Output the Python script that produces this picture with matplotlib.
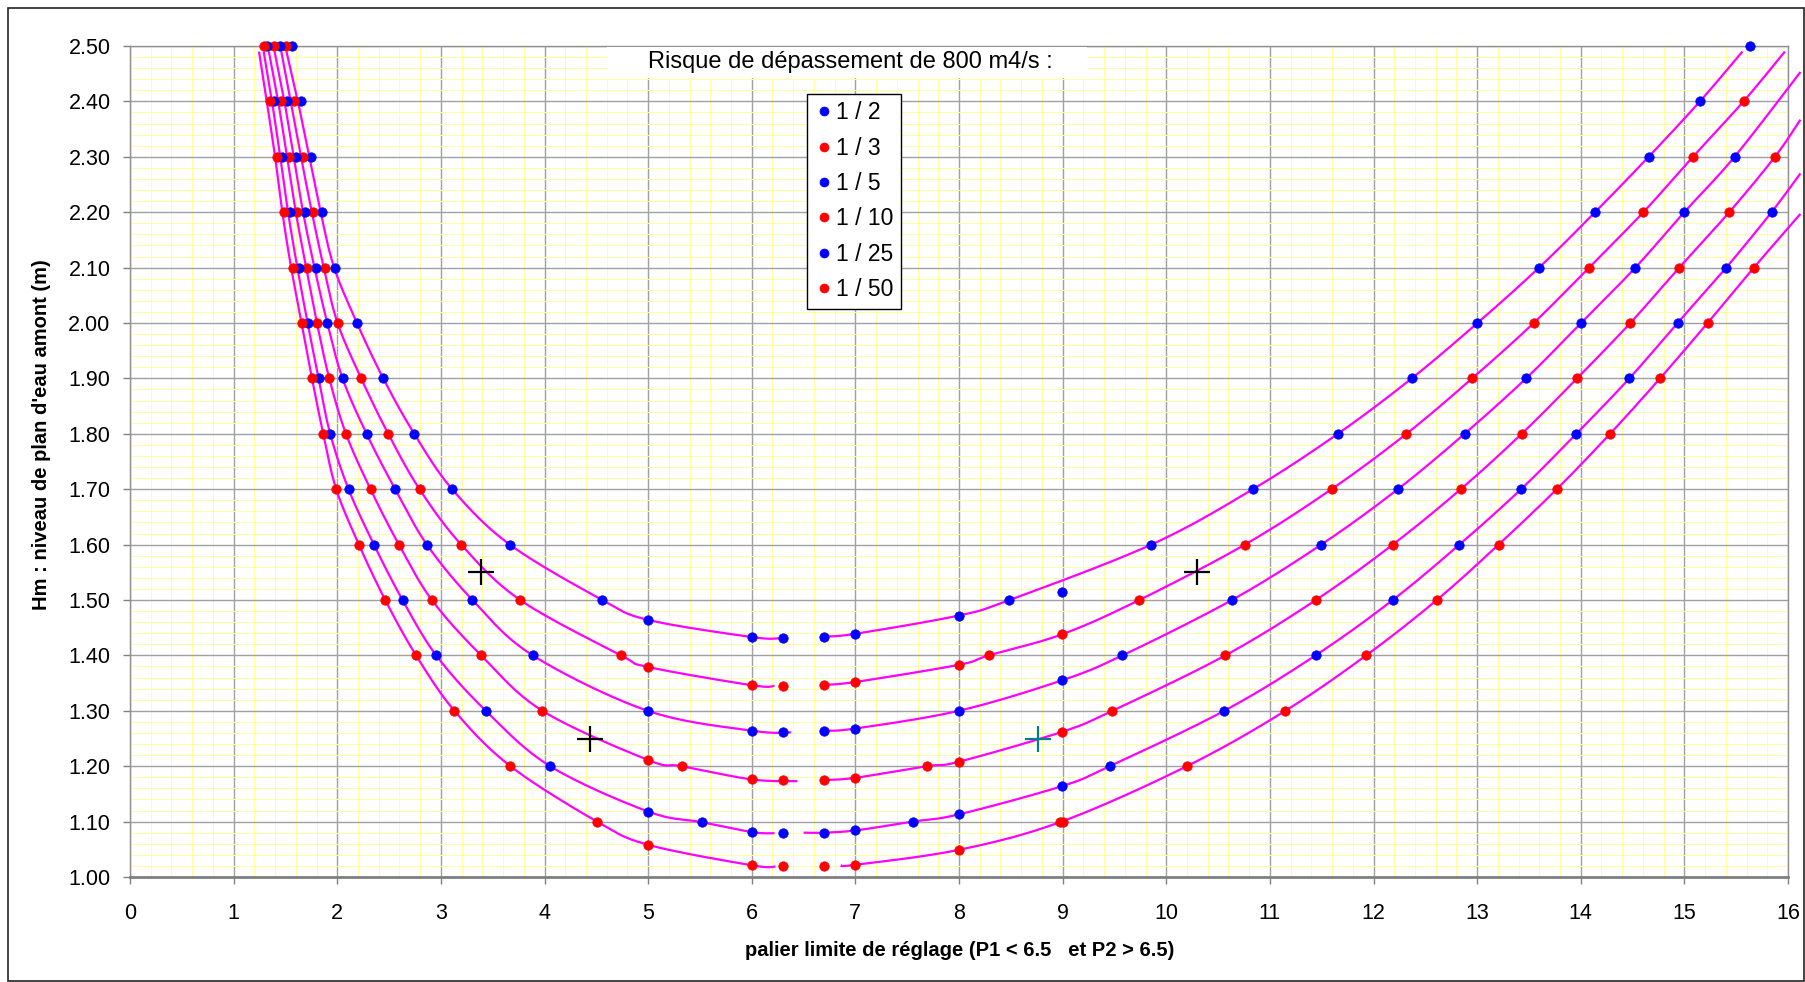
import numpy as np
import matplotlib
matplotlib.use("Agg")
import matplotlib.pyplot as plt
from matplotlib.patches import Rectangle
from matplotlib.ticker import MultipleLocator, FormatStrFormatter

plt.rcParams['font.family'] = ['Liberation Sans', 'DejaVu Sans']

# Risk levels (probability of exceeding 800 m4/s) and their dot colours
RISKS = ["1 / 2", "1 / 3", "1 / 5", "1 / 10", "1 / 25", "1 / 50"]
DOT_COLORS = ["#0000FF", "#FF0000", "#0000FF", "#FF0000", "#0000FF", "#FF0000"]

# Computed points: x = palier limite de réglage, y = Hm (m)
pts_x_2 = [1.564, 1.652, 1.749, 1.852, 1.978, 2.190, 2.444, 2.743, 3.109, 3.665, 4.558, 5.002, 6.005, 6.304,
           6.696, 6.998, 7.998, 8.487, 8.994, 9.856, 10.836, 11.656, 12.369, 13.003, 13.598, 14.138, 14.655, 15.150, 15.635]
pts_y_2 = [2.50, 2.40, 2.30, 2.20, 2.10, 2.00, 1.90, 1.80, 1.70, 1.60, 1.50, 1.464, 1.433, 1.431,
           1.434, 1.439, 1.472, 1.50, 1.514, 1.60, 1.70, 1.80, 1.90, 2.00, 2.10, 2.20, 2.30, 2.40, 2.50]

pts_x_3 = [1.506, 1.579, 1.672, 1.769, 1.878, 2.003, 2.231, 2.492, 2.794, 3.196, 3.765, 4.739, 5.002, 6.005, 6.304,
           6.696, 6.998, 7.998, 8.287, 8.994, 9.740, 10.759, 11.595, 12.318, 12.952, 13.546, 14.080, 14.604, 15.083, 15.571]
pts_y_3 = [2.50, 2.40, 2.30, 2.20, 2.10, 2.00, 1.90, 1.80, 1.70, 1.60, 1.50, 1.40, 1.379, 1.346, 1.344,
           1.347, 1.352, 1.383, 1.40, 1.438, 1.50, 1.60, 1.70, 1.80, 1.90, 2.00, 2.10, 2.20, 2.30, 2.40]

pts_x_5 = [1.444, 1.515, 1.598, 1.685, 1.791, 1.904, 2.051, 2.283, 2.559, 2.865, 3.305, 3.887, 4.996, 6.005, 6.304,
           6.696, 6.998, 7.998, 8.994, 9.577, 10.634, 11.496, 12.235, 12.879, 13.472, 14.003, 14.527, 14.999, 15.484]
pts_y_5 = [2.50, 2.40, 2.30, 2.20, 2.10, 2.00, 1.90, 1.80, 1.70, 1.60, 1.50, 1.40, 1.30, 1.264, 1.262,
           1.264, 1.268, 1.30, 1.355, 1.40, 1.50, 1.60, 1.70, 1.80, 1.90, 2.00, 2.10, 2.20, 2.30]

pts_x_10 = [1.386, 1.457, 1.534, 1.611, 1.708, 1.804, 1.923, 2.084, 2.321, 2.595, 2.913, 3.389, 3.980, 5.002, 5.324, 6.005, 6.304,
            6.696, 6.998, 7.689, 7.998, 8.994, 9.480, 10.570, 11.444, 12.186, 12.842, 13.430, 13.964, 14.478, 14.951, 15.433, 15.874]
pts_y_10 = [2.50, 2.40, 2.30, 2.20, 2.10, 2.00, 1.90, 1.80, 1.70, 1.60, 1.50, 1.40, 1.30, 1.211, 1.20, 1.176, 1.175,
            1.175, 1.179, 1.20, 1.208, 1.262, 1.30, 1.40, 1.50, 1.60, 1.70, 1.80, 1.90, 2.00, 2.10, 2.20, 2.30]

pts_x_25 = [1.322, 1.392, 1.467, 1.540, 1.627, 1.714, 1.820, 1.932, 2.109, 2.354, 2.630, 2.955, 3.434, 4.054, 5.002, 5.517, 6.005, 6.304,
            6.696, 6.998, 7.554, 7.998, 8.994, 9.454, 10.560, 11.441, 12.186, 12.829, 13.424, 13.957, 14.469, 14.934, 15.404, 15.841]
pts_y_25 = [2.50, 2.40, 2.30, 2.20, 2.10, 2.00, 1.90, 1.80, 1.70, 1.60, 1.50, 1.40, 1.30, 1.20, 1.118, 1.099, 1.081, 1.080,
            1.080, 1.084, 1.10, 1.113, 1.164, 1.20, 1.30, 1.40, 1.50, 1.60, 1.70, 1.80, 1.90, 2.00, 2.10, 2.20]

pts_x_50 = [1.289, 1.347, 1.418, 1.486, 1.569, 1.656, 1.756, 1.865, 1.990, 2.209, 2.463, 2.761, 3.131, 3.671, 4.507, 5.002, 6.005, 6.304,
            6.696, 6.998, 7.998, 8.972, 9.000, 10.199, 11.149, 11.929, 12.611, 13.207, 13.768, 14.283, 14.765, 15.224, 15.671]
pts_y_50 = [2.50, 2.40, 2.30, 2.20, 2.10, 2.00, 1.90, 1.80, 1.70, 1.60, 1.50, 1.40, 1.30, 1.20, 1.10, 1.058, 1.021, 1.019,
            1.020, 1.022, 1.049, 1.10, 1.10, 1.20, 1.30, 1.40, 1.50, 1.60, 1.70, 1.80, 1.90, 2.00, 2.10]

# Fitted curves: left branch (P1 < 6.5) and right branch (P2 > 6.5)
fit_l_x_2 = [1.51, 1.62, 1.73, 1.84, 1.97, 2.190, 2.444, 2.743, 3.109, 3.665, 4.558, 5.002, 6.005, 6.27]
fit_l_y_2 = [2.49, 2.40, 2.30, 2.20, 2.10, 2.00, 1.90, 1.80, 1.70, 1.60, 1.50, 1.464, 1.433, 1.431]
fit_r_x_2 = [6.696, 6.998, 7.998, 8.487, 9.856, 10.836, 11.656, 12.369, 13.003, 13.598, 14.138, 14.655, 15.150, 15.56]
fit_r_y_2 = [1.434, 1.439, 1.472, 1.50, 1.60, 1.70, 1.80, 1.90, 2.00, 2.10, 2.20, 2.30, 2.40, 2.49]

fit_l_x_3 = [1.46, 1.55, 1.65, 1.755, 1.87, 2.003, 2.231, 2.492, 2.794, 3.196, 3.765, 4.739, 5.002, 6.005, 6.22]
fit_l_y_3 = [2.49, 2.40, 2.30, 2.20, 2.10, 2.00, 1.90, 1.80, 1.70, 1.60, 1.50, 1.40, 1.379, 1.346, 1.345]
fit_r_x_3 = [6.696, 6.998, 7.998, 8.287, 8.994, 9.740, 10.759, 11.595, 12.318, 12.952, 13.546, 14.080, 14.604, 15.083, 15.571, 15.97]
fit_r_y_3 = [1.347, 1.352, 1.383, 1.40, 1.438, 1.50, 1.60, 1.70, 1.80, 1.90, 2.00, 2.10, 2.20, 2.30, 2.40, 2.49]

fit_l_x_5 = [1.395, 1.49, 1.58, 1.67, 1.78, 1.904, 2.051, 2.283, 2.559, 2.865, 3.305, 3.887, 4.996, 6.005, 6.38]
fit_l_y_5 = [2.49, 2.40, 2.30, 2.20, 2.10, 2.00, 1.90, 1.80, 1.70, 1.60, 1.50, 1.40, 1.30, 1.264, 1.261]
fit_r_x_5 = [6.696, 6.998, 7.998, 8.994, 9.577, 10.634, 11.496, 12.235, 12.879, 13.472, 14.003, 14.527, 14.999, 15.484, 16.12]
fit_r_y_5 = [1.264, 1.268, 1.30, 1.355, 1.40, 1.50, 1.60, 1.70, 1.80, 1.90, 2.00, 2.10, 2.20, 2.30, 2.453]

fit_l_x_10 = [1.34, 1.43, 1.515, 1.60, 1.70, 1.804, 1.923, 2.084, 2.321, 2.595, 2.913, 3.389, 3.980, 5.002, 5.324, 6.005, 6.44]
fit_l_y_10 = [2.49, 2.40, 2.30, 2.20, 2.10, 2.00, 1.90, 1.80, 1.70, 1.60, 1.50, 1.40, 1.30, 1.211, 1.20, 1.176, 1.173]
fit_r_x_10 = [6.696, 6.998, 7.689, 7.998, 8.994, 9.480, 10.570, 11.444, 12.186, 12.842, 13.430, 13.964, 14.478, 14.951, 15.433, 15.874, 16.12]
fit_r_y_10 = [1.175, 1.179, 1.20, 1.208, 1.262, 1.30, 1.40, 1.50, 1.60, 1.70, 1.80, 1.90, 2.00, 2.10, 2.20, 2.30, 2.367]

fit_l_x_25 = [1.29, 1.37, 1.45, 1.525, 1.615, 1.714, 1.820, 1.932, 2.109, 2.354, 2.630, 2.955, 3.434, 4.054, 5.002, 5.517, 6.005, 6.22]
fit_l_y_25 = [2.49, 2.40, 2.30, 2.20, 2.10, 2.00, 1.90, 1.80, 1.70, 1.60, 1.50, 1.40, 1.30, 1.20, 1.118, 1.099, 1.081, 1.079]
fit_r_x_25 = [6.50, 6.696, 6.998, 7.554, 7.998, 8.994, 9.454, 10.560, 11.441, 12.186, 12.829, 13.424, 13.957, 14.469, 14.934, 15.404, 15.841, 16.12]
fit_r_y_25 = [1.080, 1.080, 1.084, 1.10, 1.113, 1.164, 1.20, 1.30, 1.40, 1.50, 1.60, 1.70, 1.80, 1.90, 2.00, 2.10, 2.20, 2.270]

fit_l_x_50 = [1.245, 1.32, 1.40, 1.47, 1.555, 1.656, 1.756, 1.865, 1.990, 2.209, 2.463, 2.761, 3.131, 3.671, 4.507, 5.002, 6.005, 6.23]
fit_l_y_50 = [2.49, 2.40, 2.30, 2.20, 2.10, 2.00, 1.90, 1.80, 1.70, 1.60, 1.50, 1.40, 1.30, 1.20, 1.10, 1.058, 1.021, 1.019]
fit_r_x_50 = [6.86, 6.998, 7.998, 8.99, 10.199, 11.149, 11.929, 12.611, 13.207, 13.768, 14.283, 14.765, 15.224, 15.671, 16.12]
fit_r_y_50 = [1.021, 1.022, 1.049, 1.10, 1.20, 1.30, 1.40, 1.50, 1.60, 1.70, 1.80, 1.90, 2.00, 2.10, 2.197]

# Operating points marked with a cross
cross_x = [3.39, 4.44, 10.30]
cross_y = [1.55, 1.25, 1.55]
cross_teal_x = [8.763]
cross_teal_y = [1.25]

X_TICKS = list(range(0, 17))
Y_TICKS = [1.00, 1.10, 1.20, 1.30, 1.40, 1.50, 1.60, 1.70, 1.80, 1.90, 2.00, 2.10, 2.20, 2.30, 2.40, 2.50]

POINTS = [(pts_x_2, pts_y_2), (pts_x_3, pts_y_3), (pts_x_5, pts_y_5),
          (pts_x_10, pts_y_10), (pts_x_25, pts_y_25), (pts_x_50, pts_y_50)]
FITS = [(fit_l_x_2, fit_l_y_2, fit_r_x_2, fit_r_y_2),
        (fit_l_x_3, fit_l_y_3, fit_r_x_3, fit_r_y_3),
        (fit_l_x_5, fit_l_y_5, fit_r_x_5, fit_r_y_5),
        (fit_l_x_10, fit_l_y_10, fit_r_x_10, fit_r_y_10),
        (fit_l_x_25, fit_l_y_25, fit_r_x_25, fit_r_y_25),
        (fit_l_x_50, fit_l_y_50, fit_r_x_50, fit_r_y_50)]


def smoothed(xs, ys, n=30):
    """Cubic Bezier smoothing through the nodes (spreadsheet-style smoothed line)."""
    p = np.column_stack([xs, ys]).astype(float)
    ext = np.vstack([p[0], p, p[-1]])
    t = np.linspace(0.0, 1.0, n)[:, None]
    parts = []
    for i in range(1, len(ext) - 2):
        p0, p1, p2, p3 = ext[i - 1], ext[i], ext[i + 1], ext[i + 2]
        c1 = p1 + (p2 - p0) / 6.0
        c2 = p2 - (p3 - p1) / 6.0
        seg = ((1 - t) ** 3) * p1 + 3 * ((1 - t) ** 2) * t * c1 + 3 * (1 - t) * (t ** 2) * c2 + (t ** 3) * p2
        parts.append(seg if i == 1 else seg[1:])
    out = np.vstack(parts)
    return out[:, 0], out[:, 1]


W, H = 1805, 982
fig = plt.figure(figsize=(W / 100, H / 100), dpi=100)
fig.patch.set_facecolor("white")

ax_l, ax_r, ax_t, ax_b = 130, 1788, 46, 877
ax = fig.add_axes([ax_l / W, 1 - ax_b / H, (ax_r - ax_l) / W, (ax_b - ax_t) / H])
ax.set_xlim(0, 16)
ax.set_ylim(1.0, 2.5)

ax.set_xticks(X_TICKS)
ax.set_yticks(Y_TICKS)
ax.xaxis.set_minor_locator(MultipleLocator(0.2))
ax.yaxis.set_minor_locator(MultipleLocator(0.02))
ax.yaxis.set_major_formatter(FormatStrFormatter("%.2f"))
ax.set_axisbelow(True)
ax.grid(which="minor", color="#FFFFA0", linewidth=0.7)
ax.grid(which="major", color="#A0A0A0", linewidth=1.0)
ax.tick_params(which="minor", length=0)
ax.tick_params(which="major", length=5, width=1.0, color="#808080",
               labelsize=15.5, labelcolor="black", direction="out")
ax.tick_params(axis="y", pad=9)
ax.tick_params(axis="x", pad=14)
for side, sp in ax.spines.items():
    sp.set_color("#909090")
    sp.set_linewidth(1.0)
ax.spines["bottom"].set_color("#808080")
ax.spines["bottom"].set_linewidth(2.0)

# Fitted curves
for lx, ly, rx, ry in FITS:
    for bx, by in ((lx, ly), (rx, ry)):
        sx, sy = smoothed(bx, by)
        ax.plot(sx, sy, color="#FF00FF", linewidth=1.6, zorder=3, clip_on=False,
                solid_capstyle="butt")

# Computed points
handles = []
for (px, py), lab, col in zip(POINTS, RISKS, DOT_COLORS):
    h, = ax.plot(px, py, linestyle="none", marker="o", markersize=6.8,
                 markerfacecolor=col, markeredgecolor=col, markeredgewidth=0.5,
                 zorder=4, label=lab, clip_on=False)
    handles.append(h)

# Crosses
ax.plot(cross_x, cross_y, linestyle="none", marker="+", markersize=19,
        markeredgewidth=1.6, color="black", zorder=5)
ax.plot(cross_teal_x, cross_teal_y, linestyle="none", marker="+", markersize=19,
        markeredgewidth=1.6, color="#008080", zorder=5)

leg = ax.legend(handles=handles, loc="upper left",
                bbox_to_anchor=(807 / W, 1 - 94 / H), bbox_transform=fig.transFigure,
                borderaxespad=0, frameon=True, fancybox=False, framealpha=1,
                edgecolor="#000000", fontsize=16.5, handlelength=0.81,
                handletextpad=0.14, borderpad=0.32, labelspacing=0.54,
                markerscale=0.95)
leg.get_frame().set_linewidth(1.0)
leg.set_zorder(6)

# Heading with its white backing box
fig.add_artist(Rectangle((607 / W, 1 - 78 / H), 480 / W, 31 / H, transform=fig.transFigure,
                         facecolor="white", edgecolor="none", zorder=2))
fig.text(850 / W, 1 - 62 / H, "Risque de dépassement de 800 m4/s :", ha="center", va="center",
         fontsize=17, color="black", zorder=3)

# Axis titles
fig.text(959.5 / W, 1 - 950 / H, "palier limite de réglage (P1 < 6.5   et P2 > 6.5)",
         ha="center", va="center", fontsize=14.5, fontweight="bold")
fig.text(42 / W, 1 - 610 / H, "Hm : niveau de plan d'eau amont (m)", rotation=90,
         ha="center", va="bottom", fontsize=14.5, fontweight="bold")

# Outer chart frame
fig.add_artist(Rectangle((8 / W, 1 - 980.5 / H), (1804 - 8) / W, (980.5 - 8) / H,
                         transform=fig.transFigure, fill=False, edgecolor="#222222",
                         linewidth=1.2, zorder=1))

fig.savefig("out.png", dpi=100, facecolor="white")
